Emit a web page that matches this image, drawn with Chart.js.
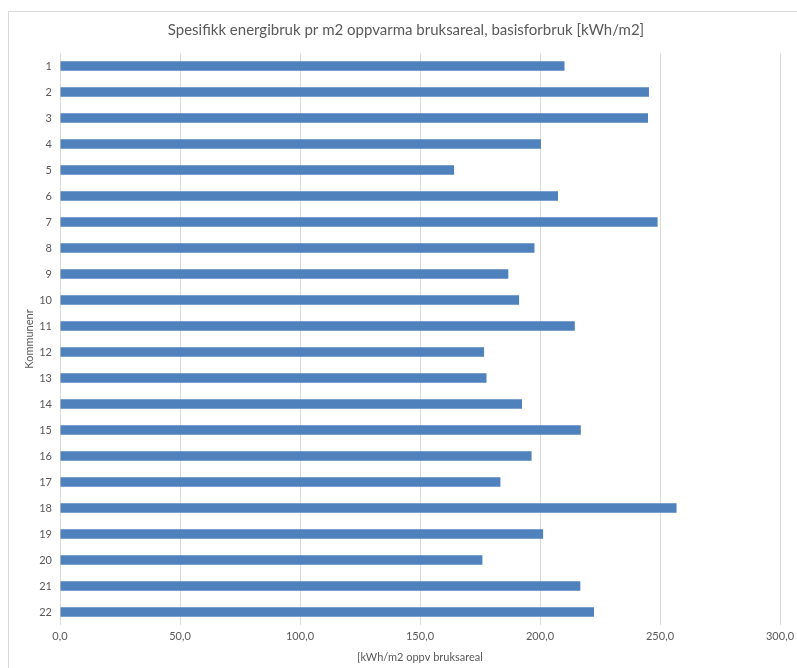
<!DOCTYPE html>
<html>
<head>
<meta charset="utf-8">
<script src="https://cdn.jsdelivr.net/npm/chart.js@4/dist/chart.umd.min.js"></script>
<style>
  html, body { margin: 0; padding: 0; background: #fff; overflow: hidden; }
  #wrap { position: relative; width: 797px; height: 668px; }
  #frame { position: absolute; left: 8px; top: 11px; width: 800px; height: 670px; border: 1px solid #d9d9d9; box-sizing: border-box; }
  #myChart { position: absolute; left: 0; top: 0; }
</style>
</head>
<body>
<div id="wrap">
  <div id="frame"></div>
  <canvas id="myChart" width="797" height="668"></canvas>
</div>
<script>
// Kommunenr 1-22 and their specific energy use
var kommuner = ['1', '2', '3', '4', '5', '6', '7', '8', '9', '10', '11',
                '12', '13', '14', '15', '16', '17', '18', '19', '20', '21', '22'];
var energibruk = [210.2, 245.4, 245.0, 200.4, 164.2, 207.5, 249.0, 197.7, 186.8, 191.3, 214.5,
                  176.7, 177.7, 192.5, 217.0, 196.5, 183.5, 256.9, 201.3, 176.0, 216.8, 222.5];
var xTickLabels = ['0,0', '50,0', '100,0', '150,0', '200,0', '250,0', '300,0'];

var fontFamily = 'Lato, "Open Sans", sans-serif';
var grey = '#595959';

var ctx = document.getElementById('myChart').getContext('2d');
var chart = new Chart(ctx, {
    type: 'bar',
    data: {
        labels: kommuner,
        datasets: [{
            label: 'Basisforbruk',
            data: energibruk,
            backgroundColor: '#4f81bd',
            borderWidth: 0,
            categoryPercentage: 1,
            barPercentage: 0.37
        }]
    },
    options: {
        indexAxis: 'y',
        responsive: false,
        animation: false,
        layout: { padding: { left: 15, right: 0, top: 0, bottom: 0 } },
        plugins: {
            legend: { display: false },
            tooltip: { enabled: false },
            title: {
                display: true,
                text: 'Spesifikk energibruk pr m2 oppvarma bruksareal, basisforbruk [kWh/m2]',
                color: grey,
                font: { family: fontFamily, size: 15, weight: 'normal' },
                padding: { top: 21, bottom: 14 }
            }
        },
        scales: {
            x: {
                min: 0,
                max: 300,
                ticks: {
                    stepSize: 50,
                    color: grey,
                    padding: 5,
                    font: { family: fontFamily, size: 11 },
                    callback: function (v, i) { return xTickLabels[i]; }
                },
                grid: { color: '#d9d9d9', drawTicks: false },
                border: { display: false },
                title: {
                    display: true,
                    text: '[kWh/m2 oppv bruksareal',
                    color: grey,
                    font: { family: fontFamily, size: 11 },
                    padding: { top: 0, bottom: 4 }
                },
                afterFit: function (scale) {
                    scale.height = 43;
                    scale.paddingRight = 17;
                }
            },
            y: {
                ticks: {
                    color: grey,
                    padding: 8,
                    font: { family: fontFamily, size: 11 }
                },
                grid: { display: false, drawTicks: false },
                border: { display: false },
                title: {
                    display: true,
                    text: 'Kommunenr',
                    color: grey,
                    font: { family: fontFamily, size: 11 },
                    padding: { top: 8, bottom: 0 }
                },
                afterFit: function (scale) { scale.width = 45; }
            }
        }
    }
});
</script>
</body>
</html>
